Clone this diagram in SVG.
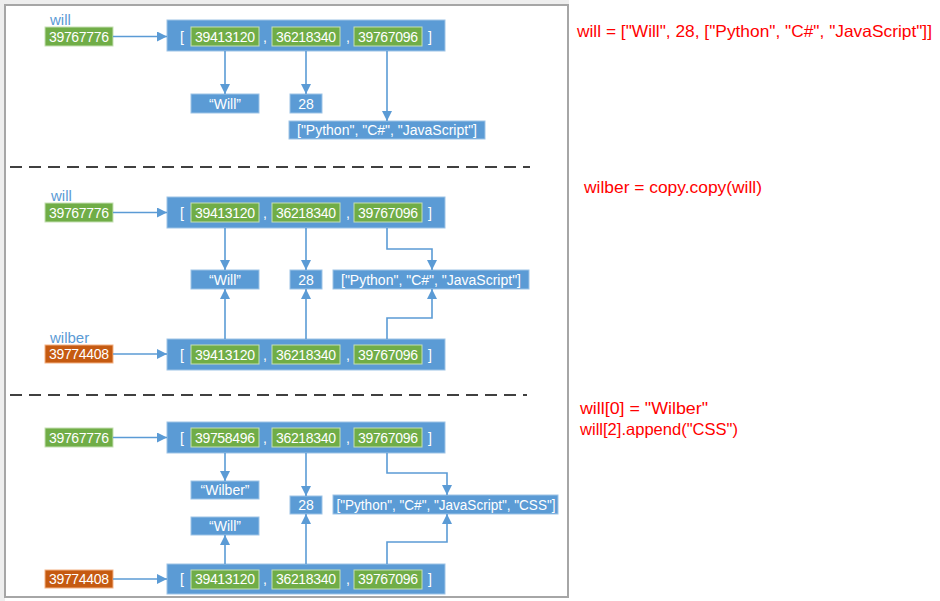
<svg xmlns="http://www.w3.org/2000/svg" width="940" height="601" viewBox="0 0 940 601">
<style>
.bg{fill:#ffffff}
.frame{fill:none;stroke:#a6a6a6;stroke-width:2}
.dash{stroke:#404040;stroke-width:2;stroke-dasharray:12 7;fill:none}
.blue{fill:#5b9bd5;stroke:#9dc3e6;stroke-width:1}
.green{fill:#70ad47;stroke:#c5e0b4;stroke-width:1}
.orange{fill:#c55a11;stroke:#f4b183;stroke-width:1}
.t{font-family:"Liberation Sans",Arial,sans-serif;font-size:14px;fill:#ffffff;text-anchor:middle}
.tl{font-family:"Liberation Sans",Arial,sans-serif;font-size:14px;fill:#ffffff}
.lbl{font-family:"Liberation Sans",Arial,sans-serif;font-size:15px;fill:#5b9bd5}
.code{font-family:"Liberation Sans",Arial,sans-serif;font-size:16.5px;fill:#ff0000}
.conn{fill:none;stroke:#5b9bd5;stroke-width:1.6}
</style>
<defs>
<marker id="ah" viewBox="0 0 10 10" refX="10" refY="5" markerWidth="10" markerHeight="10" markerUnits="userSpaceOnUse" orient="auto">
<path d="M0,0 L10,5 L0,10 z" fill="#5b9bd5"/>
</marker>
</defs>
<rect class="bg" x="0" y="0" width="940" height="601"/>
<rect x="0" y="0" width="5" height="601" fill="#eeeeee"/>
<rect x="0" y="0" width="569" height="4" fill="#eeeeee"/>
<rect class="frame" x="5" y="5" width="563" height="592"/>
<g id="dividers">
<line class="dash" x1="10" y1="167" x2="530" y2="167"/>
<line class="dash" x1="10" y1="395" x2="527" y2="395"/>
</g>

<g id="code-text">
<text class="code" x="577" y="37" textLength="355" lengthAdjust="spacingAndGlyphs">will = ["Will", 28, ["Python", "C#", "JavaScript"]]</text>
<text class="code" x="584" y="193" textLength="178" lengthAdjust="spacingAndGlyphs">wilber = copy.copy(will)</text>
<text class="code" x="580" y="414" textLength="128" lengthAdjust="spacingAndGlyphs">will[0] = "Wilber"</text>
<text class="code" x="580" y="435" textLength="158" lengthAdjust="spacingAndGlyphs">will[2].append("CSS")</text>
</g>

<!-- Section 1 -->
<g id="s1-will-ref">
<text class="lbl" x="50" y="25">will</text>
<rect class="green" x="45" y="27" width="68" height="19"/>
<text class="t" x="79" y="41.5" textLength="60">39767776</text>
</g>
<g id="s1-list">
<rect class="blue" x="167" y="20" width="278" height="31"/>
<text class="tl" x="180" y="41.5">[</text>
<rect class="green" x="191" y="27" width="68" height="19"/>
<text class="t" x="225" y="41.5" textLength="60">39413120</text>
<text class="tl" x="263" y="41.5">,</text>
<rect class="green" x="272" y="27" width="68" height="19"/>
<text class="t" x="306" y="41.5" textLength="60">36218340</text>
<text class="tl" x="346" y="41.5">,</text>
<rect class="green" x="354" y="27" width="68" height="19"/>
<text class="t" x="388" y="41.5" textLength="60">39767096</text>
<text class="tl" x="428" y="41.5">]</text>
</g>
<g id="s1-will-str">
<rect class="blue" x="191" y="94" width="68" height="19"/>
<text class="t" x="225" y="108.5">“Will”</text>
</g>
<g id="s1-28">
<rect class="blue" x="290" y="94" width="32" height="19"/>
<text class="t" x="306" y="108.5">28</text>
</g>
<g id="s1-langs">
<rect class="blue" x="289" y="121" width="196" height="18"/>
<text class="t" x="387" y="135" textLength="180" lengthAdjust="spacingAndGlyphs">["Python", "C#", "JavaScript"]</text>
</g>

<!-- Section 2 -->
<g id="s2-will-ref">
<text class="lbl" x="51" y="201">will</text>
<rect class="green" x="45" y="203" width="68" height="19"/>
<text class="t" x="79" y="217.5" textLength="60">39767776</text>
</g>
<g id="s2-will-list">
<rect class="blue" x="167" y="197" width="278" height="31"/>
<text class="tl" x="180" y="217.5">[</text>
<rect class="green" x="191" y="203" width="68" height="19"/>
<text class="t" x="225" y="217.5" textLength="60">39413120</text>
<text class="tl" x="263" y="217.5">,</text>
<rect class="green" x="272" y="203" width="68" height="19"/>
<text class="t" x="306" y="217.5" textLength="60">36218340</text>
<text class="tl" x="346" y="217.5">,</text>
<rect class="green" x="354" y="203" width="68" height="19"/>
<text class="t" x="388" y="217.5" textLength="60">39767096</text>
<text class="tl" x="428" y="217.5">]</text>
</g>
<g id="s2-will-str">
<rect class="blue" x="191" y="270" width="68" height="19"/>
<text class="t" x="225" y="284.5">“Will”</text>
</g>
<g id="s2-28">
<rect class="blue" x="290" y="270" width="32" height="19"/>
<text class="t" x="306" y="284.5">28</text>
</g>
<g id="s2-langs">
<rect class="blue" x="333" y="270" width="196" height="19"/>
<text class="t" x="431" y="284.5" textLength="180" lengthAdjust="spacingAndGlyphs">["Python", "C#", "JavaScript"]</text>
</g>
<g id="s2-wilber-ref">
<text class="lbl" x="50" y="343">wilber</text>
<rect class="orange" x="45" y="345" width="68" height="18"/>
<text class="t" x="79" y="359" textLength="60">39774408</text>
</g>
<g id="s2-wilber-list">
<rect class="blue" x="167" y="339" width="278" height="31"/>
<text class="tl" x="180" y="359.5">[</text>
<rect class="green" x="191" y="345" width="68" height="19"/>
<text class="t" x="225" y="359.5" textLength="60">39413120</text>
<text class="tl" x="263" y="359.5">,</text>
<rect class="green" x="272" y="345" width="68" height="19"/>
<text class="t" x="306" y="359.5" textLength="60">36218340</text>
<text class="tl" x="346" y="359.5">,</text>
<rect class="green" x="354" y="345" width="68" height="19"/>
<text class="t" x="388" y="359.5" textLength="60">39767096</text>
<text class="tl" x="428" y="359.5">]</text>
</g>

<!-- Section 3 -->
<g id="s3-will-ref">
<rect class="green" x="45" y="428" width="68" height="19"/>
<text class="t" x="79" y="442.5" textLength="60">39767776</text>
</g>
<g id="s3-will-list">
<rect class="blue" x="167" y="422" width="278" height="31"/>
<text class="tl" x="180" y="442.5">[</text>
<rect class="green" x="191" y="428" width="68" height="19"/>
<text class="t" x="225" y="442.5" textLength="60">39758496</text>
<text class="tl" x="263" y="442.5">,</text>
<rect class="green" x="272" y="428" width="68" height="19"/>
<text class="t" x="306" y="442.5" textLength="60">36218340</text>
<text class="tl" x="346" y="442.5">,</text>
<rect class="green" x="354" y="428" width="68" height="19"/>
<text class="t" x="388" y="442.5" textLength="60">39767096</text>
<text class="tl" x="428" y="442.5">]</text>
</g>
<g id="s3-wilber-str">
<rect class="blue" x="191" y="481" width="68" height="18"/>
<text class="t" x="225" y="495">“Wilber”</text>
</g>
<g id="s3-will-str">
<rect class="blue" x="191" y="517" width="68" height="18"/>
<text class="t" x="225" y="531">“Will”</text>
</g>
<g id="s3-28">
<rect class="blue" x="290" y="496" width="32" height="18"/>
<text class="t" x="306" y="510">28</text>
</g>
<g id="s3-langs">
<rect class="blue" x="333" y="495" width="225" height="19"/>
<text class="t" x="446" y="509.5" textLength="219" lengthAdjust="spacingAndGlyphs">["Python", "C#", "JavaScript", "CSS"]</text>
</g>
<g id="s3-wilber-ref">
<rect class="orange" x="45" y="570" width="68" height="18"/>
<text class="t" x="79" y="584" textLength="60">39774408</text>
</g>
<g id="s3-wilber-list">
<rect class="blue" x="167" y="564" width="278" height="30"/>
<text class="tl" x="180" y="584">[</text>
<rect class="green" x="191" y="570" width="68" height="19"/>
<text class="t" x="225" y="584" textLength="60">39413120</text>
<text class="tl" x="263" y="584">,</text>
<rect class="green" x="272" y="570" width="68" height="19"/>
<text class="t" x="306" y="584" textLength="60">36218340</text>
<text class="tl" x="346" y="584">,</text>
<rect class="green" x="354" y="570" width="68" height="19"/>
<text class="t" x="388" y="584" textLength="60">39767096</text>
<text class="tl" x="428" y="584">]</text>
</g>

<g id="connectors">
<path class="conn" d="M113 36.5 H167" marker-end="url(#ah)"/>
<path class="conn" d="M225 51 V94" marker-end="url(#ah)"/>
<path class="conn" d="M306 51 V94" marker-end="url(#ah)"/>
<path class="conn" d="M387 51 V121" marker-end="url(#ah)"/>
<path class="conn" d="M113 212.5 H167" marker-end="url(#ah)"/>
<path class="conn" d="M225 228 V270" marker-end="url(#ah)"/>
<path class="conn" d="M306 228 V270" marker-end="url(#ah)"/>
<path class="conn" d="M387 228 V249 H432 V270" marker-end="url(#ah)"/>
<path class="conn" d="M113 354 H167" marker-end="url(#ah)"/>
<path class="conn" d="M225 339 V289" marker-end="url(#ah)"/>
<path class="conn" d="M306 339 V289" marker-end="url(#ah)"/>
<path class="conn" d="M387 339 V318 H432 V289" marker-end="url(#ah)"/>
<path class="conn" d="M113 437.5 H167" marker-end="url(#ah)"/>
<path class="conn" d="M225 453 V481" marker-end="url(#ah)"/>
<path class="conn" d="M306 453 V496" marker-end="url(#ah)"/>
<path class="conn" d="M387 453 V473 H447 V495" marker-end="url(#ah)"/>
<path class="conn" d="M113 579 H167" marker-end="url(#ah)"/>
<path class="conn" d="M225 564 V535" marker-end="url(#ah)"/>
<path class="conn" d="M306 564 V514" marker-end="url(#ah)"/>
<path class="conn" d="M387 564 V542 H447 V514" marker-end="url(#ah)"/>
</g>
</svg>
